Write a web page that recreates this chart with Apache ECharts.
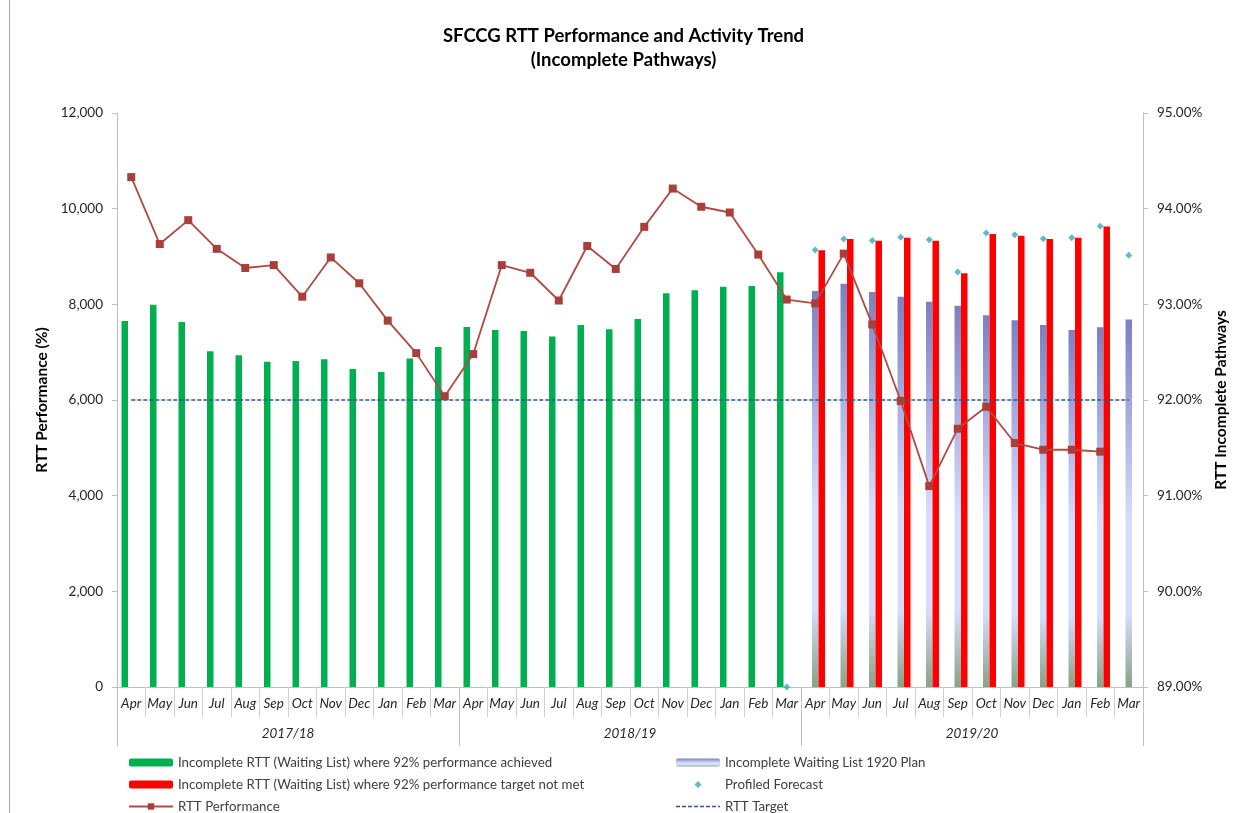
<!DOCTYPE html>
<html>
<head>
<meta charset="utf-8">
<script src="https://cdn.jsdelivr.net/npm/echarts@6/dist/echarts.min.js"></script>
<style>
html,body{margin:0;padding:0;background:#fff;}
#chart{width:1247px;height:813px;}
</style>
</head>
<body>
<div id="chart"></div>
<script>
// ---- Data ----
const months = ['Apr','May','Jun','Jul','Aug','Sep','Oct','Nov','Dec','Jan','Feb','Mar',
                'Apr','May','Jun','Jul','Aug','Sep','Oct','Nov','Dec','Jan','Feb','Mar',
                'Apr','May','Jun','Jul','Aug','Sep','Oct','Nov','Dec','Jan','Feb','Mar'];
const years = ['2017/18','2018/19','2019/20'];

// Incomplete RTT where 92% achieved (green)
const achieved = [7650,7990,7630,7020,6935,6800,6815,6850,6650,6585,6870,7110,
                  7525,7465,7445,7325,7570,7480,7695,8230,8295,8365,8385,8670,
                  null,null,null,null,null,null,null,null,null,null,null,null];
// Incomplete RTT where 92% target not met (red)
const notMet = [null,null,null,null,null,null,null,null,null,null,null,null,
                null,null,null,null,null,null,null,null,null,null,null,null,
                9130,9365,9330,9390,9330,8650,9470,9435,9365,9390,9625,null];
// Incomplete Waiting List 1920 Plan
const plan = [null,null,null,null,null,null,null,null,null,null,null,null,
              null,null,null,null,null,null,null,null,null,null,null,null,
              8280,8430,8260,8160,8055,7970,7770,7665,7570,7465,7520,7685];
// Profiled Forecast
const forecast = [null,null,null,null,null,null,null,null,null,null,null,null,
                  null,null,null,null,null,null,null,null,null,null,null,0,
                  9135,9365,9335,9400,9350,8675,9490,9455,9370,9390,9630,9025];
// RTT Performance (%)
const performance = [94.33,93.63,93.88,93.58,93.38,93.41,93.08,93.49,93.22,92.83,92.49,92.04,
                     92.48,93.41,93.33,93.04,93.61,93.37,93.81,94.21,94.02,93.96,93.52,93.05,
                     93.01,93.53,92.79,91.99,91.10,91.70,91.93,91.55,91.48,91.48,91.46,null];
// RTT Target
const target = months.map(() => 92);

const leftTicks = {min:0, max:12000, interval:2000};
const rightTicks = {min:89, max:95, interval:1};

// ---- Chart ----
const FONT = 'Lato, "Open Sans", sans-serif';
const chart = echarts.init(document.getElementById('chart'));
const axisGray = '#bfbfbf';
const planGradient = new echarts.graphic.LinearGradient(0,0,0,1,[
  {offset:0, color:'#7b80c0'},
  {offset:0.55, color:'#d6deff'},
  {offset:0.8, color:'#d6deff'},
  {offset:1, color:'#8aa283'}
]);

const legendText = {fontFamily:FONT, fontSize:13.3, color:'#404040', lineHeight:13};
// small diamond centred in a 44x8 legend box
const diamondIcon = 'path://M0,0L0.01,0M44,8L43.99,8M22,0.5L25.5,4L22,7.5L18.5,4Z';
// dashed line icon in a 44x8 legend box
let dashPath = 'path://M0,0L0.01,0M44,8L43.99,8';
for (let x = 0; x < 44; x += 6) {
  const x2 = Math.min(x + 4, 44);
  dashPath += `M${x},3.25L${x2},3.25L${x2},4.75L${x},4.75Z`;
}

const option = {
  backgroundColor:'#ffffff',
  textStyle:{fontFamily:FONT},
  animation:false,
  title:{
    text:'SFCCG RTT Performance and Activity Trend\n(Incomplete Pathways)',
    left:'center', top:24, padding:[0,0,0,27],
    textStyle:{fontFamily:FONT, fontSize:18.5, fontWeight:'bold', color:'#000', lineHeight:24}
  },
  graphic:[{type:'line', shape:{x1:9.5,y1:0,x2:9.5,y2:813}, style:{stroke:'#a6a6a6', lineWidth:1}}],
  grid:{left:117, right:104, top:113, bottom:126},
  legend:[
    {
      orient:'vertical', left:128, top:756, height:80, padding:0, itemGap:9, itemWidth:44, itemHeight:8,
      textStyle:legendText,
      data:['Incomplete RTT (Waiting List) where 92% performance achieved',
            'Incomplete RTT (Waiting List) where 92% performance target not met',
            'RTT Performance']
    },
    {
      orient:'vertical', left:676, top:756, height:80, padding:0, itemGap:9, itemWidth:44, itemHeight:8,
      textStyle:legendText,
      data:['Incomplete Waiting List 1920 Plan',
            {name:'Profiled Forecast', icon:diamondIcon},
            {name:'RTT Target', icon:dashPath}]
    }
  ],
  xAxis:[
    {
      type:'category', data:months, position:'bottom',
      axisLine:{show:true, lineStyle:{color:axisGray}},
      axisTick:{show:true, interval:0, length:30, lineStyle:{color:'#d0d0d0'}},
      axisLabel:{interval:0, margin:10, fontStyle:'italic', fontSize:13.5, color:'#262626', fontFamily:FONT}
    },
    {
      type:'category', data:years, position:'bottom',
      axisLine:{show:false},
      axisTick:{show:true, interval:0, length:59, lineStyle:{color:axisGray}},
      axisLabel:{interval:0, margin:40, fontStyle:'italic', fontSize:13.5, color:'#262626', fontFamily:FONT}
    }
  ],
  yAxis:[
    {
      type:'value', position:'left', min:leftTicks.min, max:leftTicks.max, interval:leftTicks.interval,
      name:'RTT Performance (%)', nameLocation:'middle', nameGap:59, nameRotate:90,
      nameTextStyle:{fontFamily:FONT, fontSize:15.5, fontWeight:'bold', color:'#000'},
      axisLine:{show:true, lineStyle:{color:axisGray}},
      axisTick:{show:true, length:5, lineStyle:{color:axisGray}},
      splitLine:{show:false},
      axisLabel:{margin:14, fontSize:13.5, color:'#262626', fontFamily:FONT,
        formatter:v => v.toLocaleString('en-US')}
    },
    {
      type:'value', position:'right', min:rightTicks.min, max:rightTicks.max, interval:rightTicks.interval,
      name:'RTT Incomplete Pathways', nameLocation:'middle', nameGap:63, nameRotate:90,
      nameTextStyle:{fontFamily:FONT, fontSize:15.5, fontWeight:'bold', color:'#000'},
      axisLine:{show:true, lineStyle:{color:axisGray}},
      axisTick:{show:true, length:5, lineStyle:{color:axisGray}},
      splitLine:{show:false},
      axisLabel:{margin:14, fontSize:13.5, color:'#262626', fontFamily:FONT,
        formatter:v => v.toFixed(2) + '%'}
    }
  ],
  series:[
    {
      name:'Incomplete RTT (Waiting List) where 92% performance achieved',
      type:'bar', xAxisIndex:0, yAxisIndex:0, data:achieved,
      barWidth:6.5, barGap:'0%',
      itemStyle:{color:'#00b050'}
    },
    {
      name:'Incomplete Waiting List 1920 Plan',
      type:'bar', xAxisIndex:0, yAxisIndex:0, data:plan,
      barWidth:6.5, barGap:'0%',
      itemStyle:{color:planGradient}
    },
    {
      name:'Incomplete RTT (Waiting List) where 92% performance target not met',
      type:'bar', xAxisIndex:0, yAxisIndex:0, data:notMet,
      barWidth:6.5, barGap:'0%',
      itemStyle:{color:'#ff0000'}
    },
    {
      name:'RTT Target',
      type:'line', xAxisIndex:0, yAxisIndex:1, data:target,
      showSymbol:false, symbol:'none',
      lineStyle:{color:'#2f5597', width:1.5, type:[4,2]},
      itemStyle:{color:'#2f5597'}
    },
    {
      name:'RTT Performance',
      type:'line', xAxisIndex:0, yAxisIndex:1, data:performance,
      symbol:'rect', symbolSize:8,
      lineStyle:{color:'#b04a45', width:1.8},
      itemStyle:{color:'#a83f3b'}
    },
    {
      name:'Profiled Forecast',
      type:'scatter', xAxisIndex:0, yAxisIndex:0, data:forecast,
      symbol:'diamond', symbolSize:7,
      itemStyle:{color:'#3fa5bf'}
    }
  ]
};
chart.setOption(option);
</script>
</body>
</html>
